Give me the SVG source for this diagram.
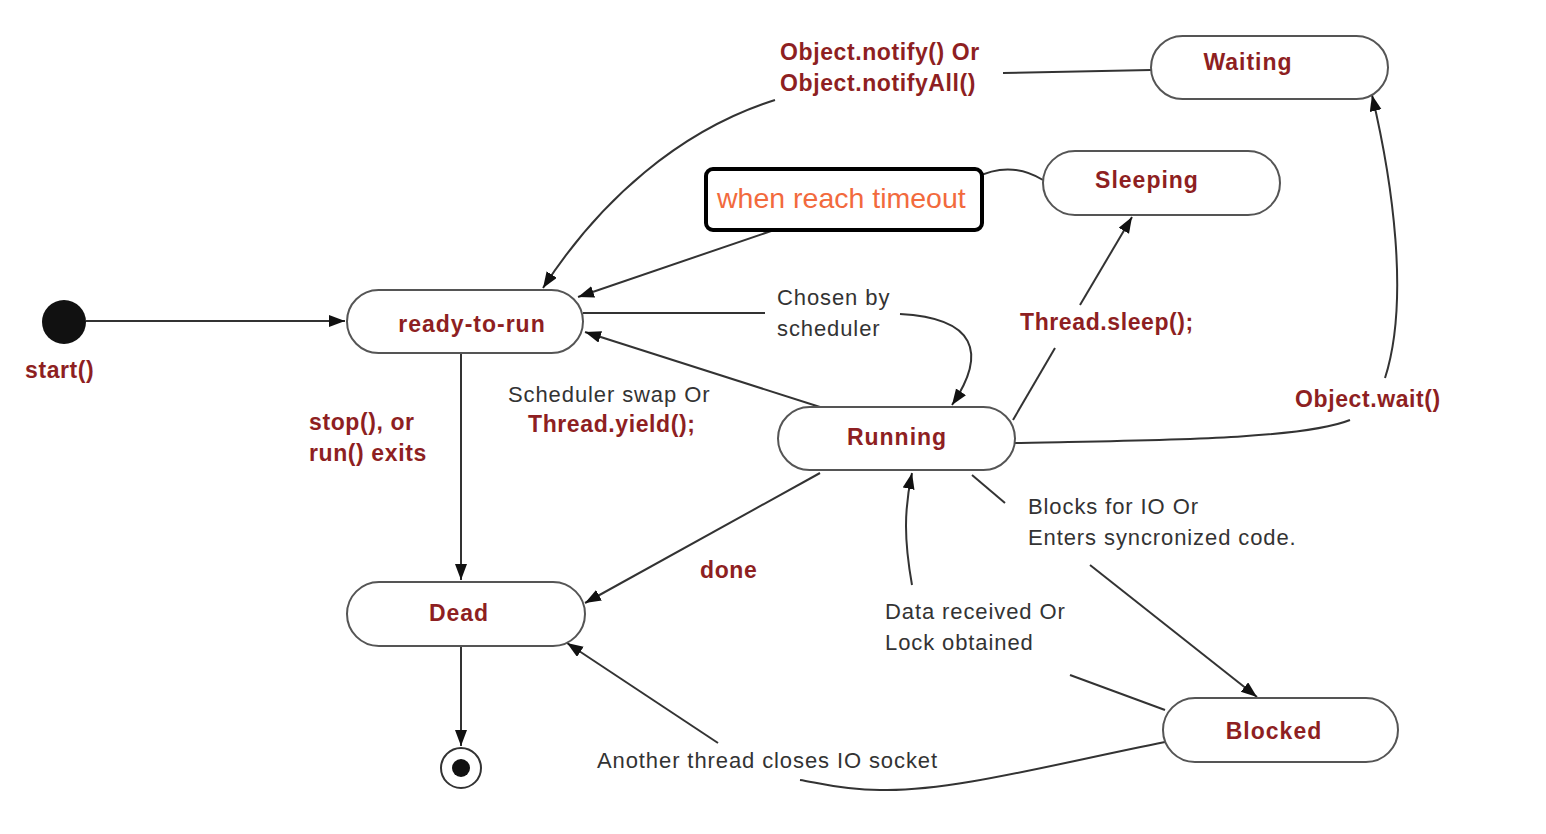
<svg xmlns="http://www.w3.org/2000/svg" width="1546" height="834" viewBox="0 0 1546 834">
<defs>
<marker id="arr" markerUnits="userSpaceOnUse" markerWidth="18" markerHeight="14" refX="16" refY="6" orient="auto">
<path d="M0,0 L16,6 L0,12 Z" fill="#111"/>
</marker>
<style>
.st{fill:#fff;stroke:#555;stroke-width:2}
.ln{fill:none;stroke:#333;stroke-width:2}
.nl{font-family:"Liberation Sans",Arial,sans-serif;font-weight:bold;font-size:23px;fill:#8e1f22;letter-spacing:1px;text-anchor:middle}
.rl{font-family:"Liberation Sans",Arial,sans-serif;font-weight:bold;font-size:23px;fill:#8e1f22;letter-spacing:0.6px}
.gl{font-family:"Liberation Sans",Arial,sans-serif;font-size:22px;fill:#333;letter-spacing:0.9px}
</style>
</defs>
<rect width="1546" height="834" fill="#fff"/>
<g id="connectors">
<path class="ln" d="M86,321 H345" marker-end="url(#arr)"/>
<path class="ln" d="M461,353 V580" marker-end="url(#arr)"/>
<path class="ln" d="M461,646 V746" marker-end="url(#arr)"/>
<path class="ln" d="M583,313 H765"/>
<path class="ln" d="M900,314 C975,318 988,352 952,405" marker-end="url(#arr)"/>
<path class="ln" d="M820,407 L585,332" marker-end="url(#arr)"/>
<path class="ln" d="M1043,180 Q1010,160 975,178"/>
<path class="ln" d="M780,228 L578,297" marker-end="url(#arr)"/>
<path class="ln" d="M1151,70 L1003,73"/>
<path class="ln" d="M775,100 C680,130 600,200 543,288" marker-end="url(#arr)"/>
<path class="ln" d="M1013,420 L1055,348"/>
<path class="ln" d="M1080,305 L1132,217" marker-end="url(#arr)"/>
<path class="ln" d="M1015,443 C1150,440 1300,440 1350,420"/>
<path class="ln" d="M1385,378 C1410,300 1392,180 1372,95" marker-end="url(#arr)"/>
<path class="ln" d="M820,473 L585,603" marker-end="url(#arr)"/>
<path class="ln" d="M972,475 L1005,503"/>
<path class="ln" d="M1090,565 L1257,697" marker-end="url(#arr)"/>
<path class="ln" d="M1165,710 L1070,675"/>
<path class="ln" d="M912,585 C904,540 904,510 912,473" marker-end="url(#arr)"/>
<path class="ln" d="M1165,742 C1050,765 950,792 880,790 C840,790 815,782 800,780"/>
<path class="ln" d="M718,743 L567,643" marker-end="url(#arr)"/>
</g>
<g id="start">
<circle cx="64" cy="322" r="22" fill="#111"/>
<text class="rl" x="25" y="378">start()</text>
</g>
<g id="end">
<circle cx="461" cy="768" r="20" fill="#fff" stroke="#333" stroke-width="2"/>
<circle cx="461" cy="768" r="9" fill="#111"/>
</g>
<g id="ready-to-run">
<rect class="st" x="347" y="290" width="236" height="63" rx="31.5"/>
<text class="nl" x="472" y="332">ready-to-run</text>
</g>
<g id="running">
<rect class="st" x="778" y="407" width="237" height="63" rx="31.5"/>
<text class="nl" x="897" y="445">Running</text>
</g>
<g id="dead">
<rect class="st" x="347" y="582" width="238" height="64" rx="32"/>
<text class="nl" x="459" y="621">Dead</text>
</g>
<g id="blocked">
<rect class="st" x="1163" y="698" width="235" height="64" rx="32"/>
<text class="nl" x="1274" y="739">Blocked</text>
</g>
<g id="sleeping">
<rect class="st" x="1043" y="151" width="237" height="64" rx="32"/>
<text class="nl" x="1147" y="188">Sleeping</text>
</g>
<g id="waiting">
<rect class="st" x="1151" y="36" width="237" height="63" rx="31.5"/>
<text class="nl" x="1248" y="70">Waiting</text>
</g>
<g id="labels">
<text class="rl" x="309" y="430">stop(), or</text>
<text class="rl" x="309" y="461">run() exits</text>
<text class="gl" x="508" y="402">Scheduler swap Or</text>
<text class="rl" x="528" y="432">Thread.yield();</text>
<text class="gl" x="777" y="305">Chosen by</text>
<text class="gl" x="777" y="336">scheduler</text>
<text class="rl" x="780" y="60">Object.notify() Or</text>
<text class="rl" x="780" y="91">Object.notifyAll()</text>
<text class="rl" x="1020" y="330">Thread.sleep();</text>
<text class="rl" x="1295" y="407">Object.wait()</text>
<text class="rl" x="700" y="578">done</text>
<text class="gl" x="1028" y="514">Blocks for IO Or</text>
<text class="gl" x="1028" y="545">Enters syncronized code.</text>
<text class="gl" x="885" y="619">Data received Or</text>
<text class="gl" x="885" y="650">Lock obtained</text>
<text class="gl" x="597" y="768">Another thread closes IO socket</text>
</g>
<g id="timeout-note">
<rect x="706" y="169" width="276" height="61" rx="7" fill="#fff" stroke="#000" stroke-width="4"/>
<text x="717" y="208" font-family="'Liberation Sans',Arial,sans-serif" font-size="28.5" fill="#f26a3d">when reach timeout</text>
</g>
</svg>
